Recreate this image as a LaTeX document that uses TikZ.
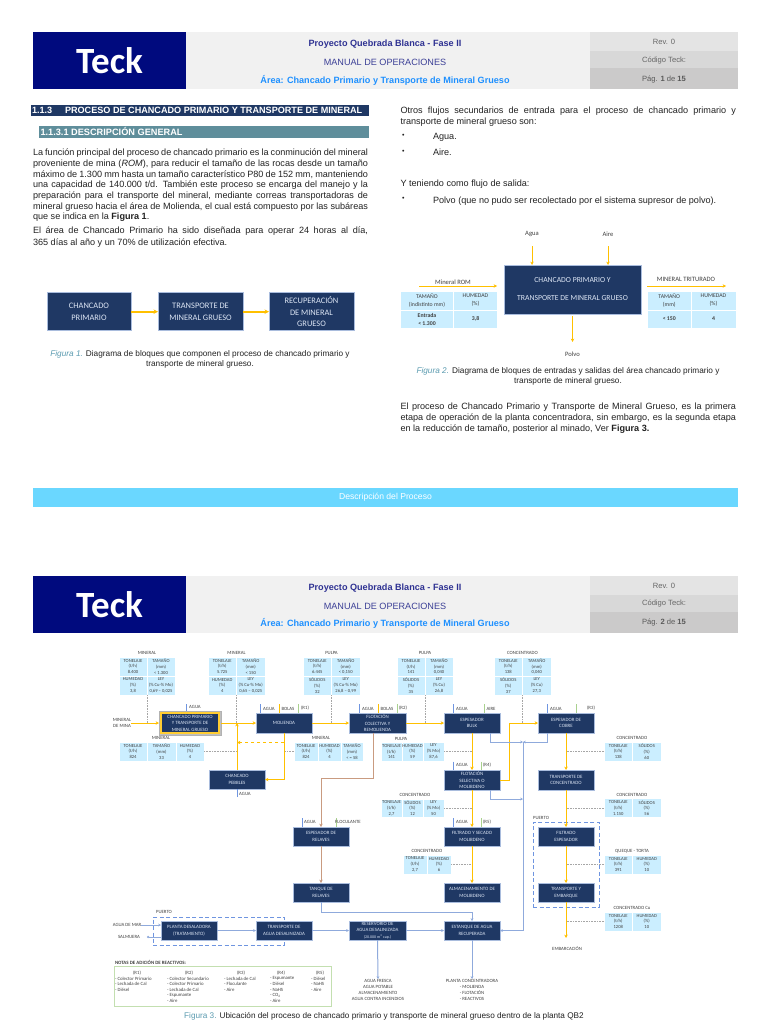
\documentclass[tikz,border=0pt]{standalone}
\usepackage{fontspec}
\setmainfont{Liberation Sans}
\newfontfamily\cali{Carlito}
\usetikzlibrary{arrows.meta,calc}
\definecolor{teckblue}{HTML}{000A7E}
\definecolor{hdrbg}{HTML}{F1F1F1}
\definecolor{hdra}{HTML}{E4E4E4}
\definecolor{hdrb}{HTML}{D8D8D8}
\definecolor{hdrc}{HTML}{CBCACA}
\definecolor{navy}{HTML}{1F3864}
\definecolor{navyedge}{HTML}{A9BCDD}
\definecolor{boxtxt}{HTML}{DDE6F5}
\definecolor{secteal}{HTML}{5F8E9B}
\definecolor{capteal}{HTML}{5B9BB0}
\definecolor{cellblue}{HTML}{CBEEFF}
\definecolor{ban}{HTML}{6AD7FF}
\definecolor{yel}{HTML}{FFC000}
\definecolor{bluw}{HTML}{8FAADC}
\definecolor{bluk}{HTML}{6F95E0}
\definecolor{brwn}{HTML}{C99B80}
\definecolor{grn}{HTML}{A9D18E}
\definecolor{bodytxt}{HTML}{222222}
\definecolor{titleb}{HTML}{2E3192}
\definecolor{titlec}{HTML}{3B3F96}
\definecolor{titled}{HTML}{1E90FF}
\definecolor{flowtxt}{HTML}{404040}
\tikzset{
 x=1pt,y=-1pt,
 rr/.style={inner sep=0pt,outer sep=0pt,align=center},
 navybox/.style={rr,fill=navy,draw=navyedge,line width=.4pt,text=boxtxt,font=\cali\fontsize{4.9}{6.5}\selectfont},
 bigbox/.style={rr,fill=navy,draw=navyedge,line width=.5pt,text=boxtxt,font=\cali\fontsize{8.4}{11.3}\selectfont},
 tcellst/.style={rr,fill=cellblue,draw=white,line width=.3pt,text=flowtxt,font=\cali\fontsize{4.6}{5.8}\selectfont},
 figcell/.style={rr,fill=cellblue,draw=white,line width=.5pt,text=flowtxt,font=\cali\fontsize{5.8}{8}\selectfont},
 bgtab/.style={rr,fill=cellblue},
 lab/.style={rr,text=flowtxt,font=\cali\fontsize{4.8}{6}\selectfont},
 figlab/.style={rr,text=flowtxt,font=\cali\fontsize{6.6}{8}\selectfont},
 body/.style={inner sep=0pt,outer sep=0pt,align=left,anchor=north west,text=bodytxt,font=\fontsize{9.1}{10.67}\selectfont},
 capt/.style={rr,text=bodytxt,font=\fontsize{8.25}{9.8}\selectfont},
 yelc/.style={draw=yel,line width=1pt,-{Stealth[length=3.4pt,width=3.4pt]}},
 yeld/.style={yelc,dashed},
 bluc/.style={draw=bluw,line width=1pt,-{Stealth[length=2.8pt,width=2.8pt]}},
 bluplain/.style={draw=bluw,line width=1pt},
 brwc/.style={draw=brwn,line width=1pt,-{Stealth[length=3.4pt,width=3.4pt]}},
 dotc/.style={draw=black!35,line width=.6pt,densely dotted},
 tickb/.style={draw=bluk,line width=.6pt},
 ticky/.style={draw=yel,line width=.6pt},
 tickg/.style={draw=grn,line width=.6pt},
 puerto/.style={rr,draw=bluk,line width=.9pt,dash pattern=on 4pt off 2.5pt},
}
\newcommand{\rectn}[7][]{\node[rr,#1,minimum width={((#5)-(#3))*1pt},minimum height={((#6)-(#4))*1pt}] (#2) at ({((#3)+(#5))/2},{((#4)+(#6))/2}) {#7};}
\newcommand{\hdrblock}[3]{%
 \rectn[fill=hdrbg]{#1bg}{186}{#2}{590}{#2+57}{}
 \rectn[fill=teckblue]{#1logo}{33}{#2}{186}{#2+57}{\cali\bfseries\fontsize{37}{37}\selectfont\textcolor{white}{Teck}}
 \rectn[fill=hdra]{#1ra}{590}{#2}{738}{#2+19}{\textcolor{black!60}{\fontsize{7.6}{9}\selectfont Rev. 0}}
 \rectn[fill=hdrb]{#1rb}{590}{#2+19}{738}{#2+36}{\textcolor{black!60}{\fontsize{7.6}{9}\selectfont Código Teck:}}
 \rectn[fill=hdrc]{#1rc}{590}{#2+36}{738}{#2+57}{\textcolor{black!65}{\fontsize{7.6}{9}\selectfont Pág. \textbf{#3} de \textbf{15}}}
 \node[rr,text=titleb,font=\bfseries\fontsize{9.1}{10}\selectfont] (#1ta) at (385,#2+12) {Proyecto Quebrada Blanca - Fase II};
 \node[rr,text=titlec,font=\fontsize{9.1}{10}\selectfont] (#1tb) at (385,#2+30) {MANUAL DE OPERACIONES};
 \node[rr,text=titled,font=\bfseries\fontsize{9.1}{10}\selectfont] (#1tc) at (385,#2+47.5) {Área: Chancado Primario y Transporte de Mineral Grueso};
}
% two by two table
\newcommand{\tabfour}[8]{% name x0 x1 header a b c d
 \rectn[bgtab]{#1}{#2}{657}{#3}{695}{}
 \node[lab] (#1h) at ({(#2+#3)/2},653) {#4};
 \rectn[tcellst]{#1a}{#2}{657}{(#2+#3)/2}{676}{#5}
 \rectn[tcellst]{#1b}{(#2+#3)/2}{657}{#3}{676}{#6}
 \rectn[tcellst]{#1c}{#2}{676}{(#2+#3)/2}{695}{#7}
 \rectn[tcellst]{#1d}{(#2+#3)/2}{676}{#3}{695}{#8}
}
% one-row table of two cells
\newcommand{\tabtwo}[7]{% name x0 y0 header hx a b
 \rectn[bgtab]{#1}{#2}{#3}{#2+57}{#3+19}{}
 \node[lab] (#1h) at (#5,#3-4) {#4};
 \rectn[tcellst]{#1a}{#2}{#3}{#2+28.5}{#3+19}{#6}
 \rectn[tcellst]{#1b}{#2+28.5}{#3}{#2+57}{#3+19}{#7}
}
\begin{document}
\begin{tikzpicture}
\useasboundingbox (0,0) rectangle (768,1024);
\fill[white] (0,0) rectangle (768,1024);
\hdrblock{a}{32.5}{1}
\hdrblock{b}{576}{2}
% Section bars
\rectn[fill=navy]{bar1}{31}{105.5}{369}{115.7}{}
\node[rr,anchor=west,text=white,font=\bfseries\fontsize{9.1}{10}\selectfont] (bar1a) at (32,110.6) {1.1.3};
\node[rr,anchor=west,text=white,font=\bfseries\fontsize{9.1}{10}\selectfont] (bar1b) at (65,110.6) {PROCESO DE CHANCADO PRIMARIO Y TRANSPORTE DE MINERAL};
\rectn[fill=secteal]{bar2}{39}{126}{369}{138}{}
\node[rr,anchor=west,text=white,font=\bfseries\fontsize{9.2}{10}\selectfont] (bar2a) at (40.5,131.5) {1.1.3.1 DESCRIPCIÓN GENERAL};
% Left column
\node[body] (pa) at (33,149.2) {%
\makebox[335pt][s]{La función principal del proceso de chancado primario es la conminución del mineral}\\
\makebox[335pt][s]{proveniente de mina (\textit{ROM}), para reducir el tamaño de las rocas desde un tamaño}\\
\makebox[335pt][s]{máximo de 1.300 mm hasta un tamaño característico P80 de 152 mm, manteniendo}\\
\makebox[335pt][s]{una capacidad de 140.000 t/d. También este proceso se encarga del manejo y la}\\
\makebox[335pt][s]{preparación para el transporte del mineral, mediante correas transportadoras de}\\
\makebox[335pt][s]{mineral grueso hacia el área de Molienda, el cual está compuesto por las subáreas}\\
que se indica en la \textbf{Figura 1}.};
\node[body,font=\fontsize{9.1}{12.2}\selectfont] (pb) at (33,227) {%
\makebox[335pt][s]{El área de Chancado Primario ha sido diseñada para operar 24 horas al día,}\\
365 días al año y un 70\% de utilización efectiva.};
% Right column
\node[body] (pc) at (400.5,106.8) {%
\makebox[335.5pt][s]{Otros flujos secundarios de entrada para el proceso de chancado primario y}\\
transporte de mineral grueso son:};
\node[body,font=\fontsize{7}{8}\selectfont] (bu1) at (402,134) {•};
\node[body] (pd) at (433,133.2) {Agua.};
\node[body,font=\fontsize{7}{8}\selectfont] (bu2) at (402,150) {•};
\node[body] (pe) at (433,149.2) {Aire.};
\node[body] (pf) at (400.5,180.2) {Y teniendo como flujo de salida:};
\node[body,font=\fontsize{7}{8}\selectfont] (bu3) at (402,197) {•};
\node[body] (pg) at (433,196.5) {Polvo (que no pudo ser recolectado por el sistema supresor de polvo).};
\node[body,font=\fontsize{9.1}{11}\selectfont] (ph) at (400.5,403.3) {%
\makebox[335.5pt][s]{El proceso de Chancado Primario y Transporte de Mineral Grueso, es la primera}\\
\makebox[335.5pt][s]{etapa de operación de la planta concentradora, sin embargo, es la segunda etapa}\\
en la reducción de tamaño, posterior al minado, Ver \textbf{Figura 3.}};
% Figure 1
\rectn[bigbox]{fa}{47}{292.7}{131}{330.7}{CHANCADO\\PRIMARIO}
\rectn[bigbox]{fb}{158}{292.7}{243}{330.7}{TRANSPORTE DE\\MINERAL GRUESO}
\rectn[bigbox]{fc}{269}{292.7}{354}{330.7}{RECUPERACIÓN\\DE MINERAL\\GRUESO}
\draw[yelc,line width=1.7pt,-{Stealth[length=4.5pt,width=4.5pt]}] (fa.east) -- (fb.west);
\draw[yelc,line width=1.7pt,-{Stealth[length=4.5pt,width=4.5pt]}] (fb.east) -- (fc.west);
\node[capt] (capa) at (200,359) {\textcolor{capteal}{\textit{Figura 1.}} Diagrama de bloques que componen el proceso de chancado primario y\\transporte de mineral grueso.};
% Figure 2
\rectn[bigbox,font=\cali\fontsize{7.7}{18}\selectfont]{fm}{504}{265}{641}{314}{CHANCADO PRIMARIO Y\\TRANSPORTE DE MINERAL GRUESO}
\node[figlab] (lag) at (532,234) {Agua};
\node[figlab] (lai) at (608,234) {Aire};
\coordinate (lags) at (532,246);
\coordinate (lais) at (608,246);
\draw[yelc,line width=.7pt] (lags) -- (lags |- fm.north);
\draw[yelc,line width=.7pt] (lais) -- (lais |- fm.north);
\node[figlab] (lrom) at (453,282) {Mineral ROM};
\coordinate (rs) at (419,286); \coordinate (re) at (497,286);
\draw[yelc,line width=.8pt] (rs) -- (re);
\node[figlab] (ltri) at (686,279) {MINERAL TRITURADO};
\coordinate (ts) at (647,286); \coordinate (te2) at (726,286);
\draw[yelc,line width=.8pt] (ts) -- (te2);
\rectn[figcell]{ga}{400.5}{291}{453.5}{310}{TAMAÑO\\(indistinto mm)}
\rectn[figcell]{gb}{453.5}{291}{497.5}{310}{HUMEDAD\\(\%)}
\rectn[figcell]{gc}{400.5}{310}{453.5}{328}{\textbf{Entrada}\\\textbf{< 1.300}}
\rectn[figcell]{gd}{453.5}{310}{497.5}{328}{\textbf{3,8}}
\rectn[figcell]{ge}{647.5}{291}{691}{310}{TAMAÑO\\(mm)}
\rectn[figcell]{gf}{691}{291}{736}{310}{HUMEDAD\\(\%)}
\rectn[figcell]{gg}{647.5}{310}{691}{328}{\textbf{< 150}}
\rectn[figcell]{gh}{691}{310}{736}{328}{\textbf{4}}
\node[figlab] (lpo) at (572.5,354) {Polvo};
\coordinate (pot) at (572.5,342);
\draw[yelc,line width=.7pt] (fm.south) ++(0,2) -- (pot);
\node[capt] (capb) at (568,376.5) {\textcolor{capteal}{\textit{Figura 2.}} Diagrama de bloques de entradas y salidas del área chancado primario y\\transporte de mineral grueso.};
% Banner
\rectn[fill=ban,text=white,font=\fontsize{8.6}{10}\selectfont]{banner}{33}{487.5}{738}{507}{Descripción del Proceso}
% Flowsheet: dashed port zones
\rectn[puerto]{pz1}{153}{917}{284}{945}{}
\rectn[puerto]{pz2}{533}{822}{599}{907}{}
\node[lab] (pzl1) at (164,912) {PUERTO};
\node[lab] (pzl2) at (541,818) {PUERTO};
% Boxes
\rectn[fill=black!25,draw=black!30]{chpg}{159}{711}{221}{735}{}
\rectn[navybox,draw=yel!80!white,line width=1.1pt]{chp}{161}{713}{219}{733}{CHANCADO PRIMARIO\\Y TRANSPORTE DE\\MINERAL GRUESO}
\rectn[navybox]{mol}{256}{713}{312}{733}{MOLIENDA}
\rectn[navybox]{flo}{349}{713}{406}{733}{FLOTACIÓN\\COLECTIVA Y\\REMOLIENDA}
\rectn[navybox]{bul}{444}{713}{500}{733}{ESPESADOR\\BULK}
\rectn[navybox]{cob}{538}{713}{594}{733}{ESPESADOR DE\\COBRE}
\rectn[navybox]{peb}{209}{770}{265}{789}{CHANCADO\\PEBBLES}
\rectn[navybox]{sel}{444}{770}{500}{790}{FLOTACIÓN\\SELECTIVA O\\MOLIBDENO}
\rectn[navybox]{trc}{538}{770}{594}{790}{TRANSPORTE DE\\CONCENTRADO}
\rectn[navybox]{rel}{293}{827}{349}{846}{ESPESADOR DE\\RELAVES}
\rectn[navybox]{fis}{444}{827}{500}{846}{FILTRADO Y SECADO\\MOLIBDENO}
\rectn[navybox]{fie}{538}{827}{594}{846}{FILTRADO\\ESPESADOR}
\rectn[navybox]{tan}{293}{883}{349}{902}{TANQUE DE\\RELAVES}
\rectn[navybox]{alm}{444}{883}{500}{902}{ALMACENAMIENTO DE\\MOLIBDENO}
\rectn[navybox]{tre}{538}{883}{594}{902}{TRANSPORTE Y\\EMBARQUE}
\rectn[navybox]{pla}{161}{921}{217}{940}{PLANTA DESALADORA\\(TRATAMIENTO)}
\rectn[navybox]{tra}{256}{921}{312}{940}{TRANSPORTE DE\\AGUA DESALINIZADA}
\rectn[navybox]{res}{349}{921}{406}{940}{RESERVORIO DE\\AGUA DESALINIZADA\\{\fontsize{4}{5}\selectfont (20.000 m\textsuperscript{3} cap.)}}
\rectn[navybox]{est}{444}{921}{500}{940}{ESTANQUE DE AGUA\\RECUPERADA}
% Top tables
\tabfour{Ta}{119}{175}{MINERAL}{TONELAJE\\(t/h)\\8.400}{TAMAÑO\\(mm)\\< 1.300}{HUMEDAD\\(\%)\\3,8}{LEY\\(\% Cu-\% Mo)\\0,69 – 0,025}
\tabfour{Tb}{208}{265}{MINERAL}{TONELAJE\\(t/h)\\5.725}{TAMAÑO\\(mm)\\< 150}{HUMEDAD\\(\%)\\4}{LEY\\(\% Cu-\% Mo)\\0,65 – 0,025}
\tabfour{Tc}{303}{360}{PULPA}{TONELAJE\\(t/h)\\6.445}{TAMAÑO\\(mm)\\< 0,150}{SÓLIDOS\\(\%)\\32}{LEY\\(\% Cu-\% Mo)\\26,8 – 0,99}
\tabfour{Td}{397}{453}{PULPA}{TONELAJE\\(t/h)\\141}{TAMAÑO\\(mm)\\0,040}{SÓLIDOS\\(\%)\\35}{LEY\\(\% Cu)\\26,8}
\tabfour{Te}{494}{551}{CONCENTRADO}{TONELAJE\\(t/h)\\138}{TAMAÑO\\(mm)\\0,040}{SÓLIDOS\\(\%)\\37}{LEY\\(\% Cu)\\27,3}
% Three-cell tables
\rectn[bgtab]{Tf}{119}{742}{204}{761}{}
\node[lab] (Tfh) at (161,738) {MINERAL};
\rectn[tcellst]{Tfa}{119}{742}{147}{761}{TONELAJE\\(t/h)\\824}
\rectn[tcellst]{Tfb}{147}{742}{176}{761}{TAMAÑO\\(mm)\\33}
\rectn[tcellst]{Tfc}{176}{742}{204}{761}{HUMEDAD\\(\%)\\4}
\rectn[bgtab]{Tg}{294}{742}{363}{761}{}
\node[lab] (Tgh) at (321,738) {MINERAL};
\rectn[tcellst]{Tga}{294}{742}{318}{761}{TONELAJE\\(t/h)\\824}
\rectn[tcellst]{Tgb}{318}{742}{341}{761}{HUMEDAD\\(\%)\\4}
\rectn[tcellst]{Tgc}{341}{742}{363}{761}{TAMAÑO\\(mm)\\< = 58}
\rectn[bgtab]{Th}{381}{742}{444}{761}{}
\node[lab] (Thh) at (401,738.5) {PULPA};
\rectn[tcellst]{Tha}{381}{742}{402}{761}{TONELAJE\\(t/h)\\141}
\rectn[tcellst]{Thb}{402}{742}{423}{761}{HUMEDAD\\(\%)\\59}
\rectn[tcellst]{Thc}{423}{742}{444}{761}{LEY\\(\% Mo)\\87,6}
\rectn[bgtab]{Ti}{381}{799}{444}{817}{}
\node[lab] (Tih) at (415,795) {CONCENTRADO};
\rectn[tcellst]{Tia}{381}{799}{402}{817}{TONELAJE\\(t/h)\\2,7}
\rectn[tcellst]{Tib}{402}{799}{423}{817}{SÓLIDOS\\(\%)\\12}
\rectn[tcellst]{Tic}{423}{799}{444}{817}{LEY\\(\% Mo)\\50}
\tabtwo{Tj}{604}{742}{CONCENTRADO}{632}{TONELAJE\\(t/h)\\138}{SÓLIDOS\\(\%)\\60}
\tabtwo{Tk}{604}{798.5}{CONCENTRADO}{632}{TONELAJE\\(t/h)\\1.150}{SÓLIDOS\\(\%)\\56}
\tabtwo{Tm}{604}{855}{QUEQUE - TORTA}{632}{TONELAJE\\(t/h)\\391}{HUMEDAD\\(\%)\\10}
\tabtwo{Tn}{604}{912}{CONCENTRADO Cu}{632}{TONELAJE\\(t/h)\\1208}{HUMEDAD\\(\%)\\10}
\rectn[bgtab]{Tl}{403}{855}{451}{874}{}
\node[lab] (Tlh) at (427,851) {CONCENTRADO};
\rectn[tcellst]{Tla}{403}{855}{427}{874}{TONELAJE\\(t/h)\\2,7}
\rectn[tcellst]{Tlb}{427}{855}{451}{874}{HUMEDAD\\(\%)\\6}
% Dotted leaders
\coordinate (mainy) at (0,723);
\foreach \tb in {Ta,Tb,Tc,Td,Te}{\draw[dotc] (\tb.south) -- (\tb.south |- mainy);}
\coordinate (xa) at (237,0); \coordinate (xb) at (284,0); \coordinate (xc) at (472,0); \coordinate (xd) at (566,0);
\draw[dotc] (Tf.east) -- (Tf.east -| xa);
\draw[dotc] (Tg.west) -- (Tg.west -| xb);
\draw[dotc] (Th.east) -- (Th.east -| xc);
\draw[dotc] (Ti.east) -- (Ti.east -| xc);
\draw[dotc] (Tl.east) -- (Tl.east -| xc);
\draw[dotc] (Tj.west) -- (Tj.west -| xd);
\draw[dotc] (Tk.west) -- (Tk.west -| xd);
\draw[dotc] (Tm.west) -- (Tm.west -| xd);
\draw[dotc] (Tn.west) -- (Tn.west -| xd);
% Yellow flow
\node[lab,align=center] (mina) at (122,723) {MINERAL\\DE MINA};
\draw[yelc] (mina.east) -- (mina.east -| chpg.west);
\draw[yelc] (chpg.east) -- (mol.west);
\draw[yelc] (mol.east) -- (flo.west);
\draw[yelc] (flo.east) -- (bul.west);
\draw[yelc] (bul.south) -- (sel.north);
\draw[yelc] (sel.south) -- (fis.north);
\draw[yelc] (fis.south) -- (alm.north);
\coordinate (sx) at (509,723);
\draw[yelc] (sel.east) -| (sx) -- (cob.west);
\draw[yelc] (cob.south) -- (trc.north);
\draw[yelc] (trc.south) -- (fie.north);
\draw[yelc] (fie.south) -- (tre.north);
\node[lab] (emb) at (567,949) {EMBARCACIÓN};
\coordinate (embt) at (566,938);
\draw[yelc] (tre.south) -- (embt);
\draw[yelc] (mol.south) |- (peb.east);
\draw[yelc] (peb.north) -- (peb.north |- chp.east);
\coordinate (da) at (284,742.5); \coordinate (db) at (237,742.5);
\draw[yeld] (da) -- (db);
% Brown flow
\coordinate (fbs) at (373,733); \coordinate (fbc) at (373,778);
\draw[brwc] (fbs) -- (fbc) -| (rel.north);
\draw[brwc] (rel.south) -- (tan.north);
% Blue flow
\coordinate (ta) at (400,912);
\draw[bluc] (tan.south) |- (ta) -| (est.north);
\coordinate (bb) at (490,733); \coordinate (bc) at (490,742);
\coordinate (vt) at (523,742);
\coordinate (cb) at (547,733); \coordinate (cc) at (547,742);
\draw[bluc] (bb) -- (bc) -- (vt);
\draw[bluc] (cb) -- (cc) -- (vt);
\coordinate (sb) at (490,790); \coordinate (sc) at (490,799); \coordinate (vu) at (523,799);
\draw[bluc] (sb) -- (sc) -- (vu);
\draw[bluc] (vt) |- (est.east);
\node[lab] (amar) at (127,925) {AGUA DE MAR};
\node[lab] (salm) at (129,937) {SALMUERA};
\draw[bluc] (amar.east) -- (amar.east -| pla.west);
\coordinate (sald) at (147,937);
\draw[bluplain,{Circle[length=2.2pt]}-] (sald) -- (sald -| pla.west);
\draw[bluc] (pla.east) -- (tra.west);
\draw[bluc] (tra.east) -- (res.west);
\draw[bluc] (res.east) -- (est.west);
\node[lab,anchor=north] (afr) at (378,979) {AGUA FRESCA\\AGUA POTABLE\\ALMACENAMIENTO\\AGUA CONTRA INCENDIOS};
\node[lab,anchor=north] (pco) at (472,979) {PLANTA CONCENTRADORA\\- MOLIENDA\\- FLOTACIÓN\\- REACTIVOS};
\draw[bluc] (res.south) -- (afr.north);
\draw[bluc] (est.south) -- (pco.north);
% Input ticks
\draw[tickb] (186,704) coordinate (k1) -- (k1 |- chpg.north);
\node[lab] (k1l) at (195,707) {AGUA};
\draw[tickb] (260,704) coordinate (k2) -- (k2 |- mol.north);
\node[lab] (k2l) at (269,708.5) {AGUA};
\draw[ticky] (279,704) coordinate (k3) -- (k3 |- mol.north);
\node[lab] (k3l) at (288,708.5) {BOLAS};
\draw[tickg] (298,704) coordinate (k4) -- (k4 |- mol.north);
\node[lab] (k4l) at (305,708.5) {(R1)};
\draw[tickb] (359,704) coordinate (k5) -- (k5 |- flo.north);
\node[lab] (k5l) at (368,709) {AGUA};
\draw[ticky] (378,704) coordinate (k6) -- (k6 |- flo.north);
\node[lab] (k6l) at (387,709) {BOLAS};
\draw[tickg] (397,704) coordinate (k7) -- (k7 |- flo.north);
\node[lab] (k7l) at (403,708.5) {(R2)};
\draw[tickb] (453,704) coordinate (k8) -- (k8 |- bul.north);
\node[lab] (k8l) at (462,708.5) {AGUA};
\draw[tickg] (484,704) coordinate (k9) -- (k9 |- bul.north);
\node[lab] (k9l) at (491,708.5) {AIRE};
\draw[tickb] (547,704) coordinate (k10) -- (k10 |- cob.north);
\node[lab] (k10l) at (556,708.5) {AGUA};
\draw[tickg] (576,704) coordinate (k11) -- (k11 |- cob.north);
\node[lab] (k11l) at (591,708.5) {(R3)};
\draw[tickb] (453,761.5) coordinate (k12) -- (k12 |- sel.north);
\node[lab] (k12l) at (462,765) {AGUA};
\draw[tickg] (481,761.5) coordinate (k13) -- (k13 |- sel.north);
\node[lab] (k13l) at (487,765) {(R4)};
\draw[tickb] (453,818) coordinate (k14) -- (k14 |- fis.north);
\node[lab] (k14l) at (462,822) {AGUA};
\draw[tickg] (481,818) coordinate (k15) -- (k15 |- fis.north);
\node[lab] (k15l) at (487,822) {(R5)};
\draw[tickb] (302,818) coordinate (k16) -- (k16 |- rel.north);
\node[lab] (k16l) at (310,822) {AGUA};
\draw[tickg] (336,818) coordinate (k17) -- (k17 |- rel.north);
\node[lab] (k17l) at (348,822) {FLOCULANTE};
\draw[tickb] (237,797) coordinate (k18) -- (k18 |- peb.south);
\node[lab] (k18l) at (245,794) {AGUA};
% Notes
\node[lab,anchor=west,font=\cali\bfseries\fontsize{4.9}{6}\selectfont] (nth) at (115,962) {NOTAS DE ADICIÓN DE REACTIVOS:};
\rectn[draw=grn!70!white,line width=.6pt]{ntb}{114}{966}{331}{1006}{}
\tikzset{notes/.style={rr,anchor=north west,align=left,text=flowtxt,font=\cali\fontsize{4.8}{5.6}\selectfont}}
\node[lab] (r1) at (137,973) {(R1)};
\node[notes] (n1) at (115,976.8) {- Colector Primario\\- Lechada de Cal\\- Diésel};
\node[lab] (r2) at (189,973) {(R2)};
\node[notes] (n2) at (167,976.8) {- Colector Secundario\\- Colector Primario\\- Lechada de Cal\\- Espumante\\- Aire};
\node[lab] (r3) at (241,973) {(R3)};
\node[notes] (n3) at (224,976.8) {- Lechada de Cal\\- Floculante\\- Aire};
\node[lab] (r4) at (281,973) {(R4)};
\node[notes] (n4) at (270,976.8) {- Espumante\\- Diésel\\- NaHS\\- CO\textsubscript{2}\\- Aire};
\node[lab] (r5) at (320,973) {(R5)};
\node[notes] (n5) at (311,976.8) {- Diésel\\- NaHS\\- Aire};
\node[capt,font=\fontsize{8.2}{10}\selectfont] (capc) at (384,1016.5) {\textcolor{capteal}{Figura 3.} Ubicación del proceso de chancado primario y transporte de mineral grueso dentro de la planta QB2};
\end{tikzpicture}
\end{document}
